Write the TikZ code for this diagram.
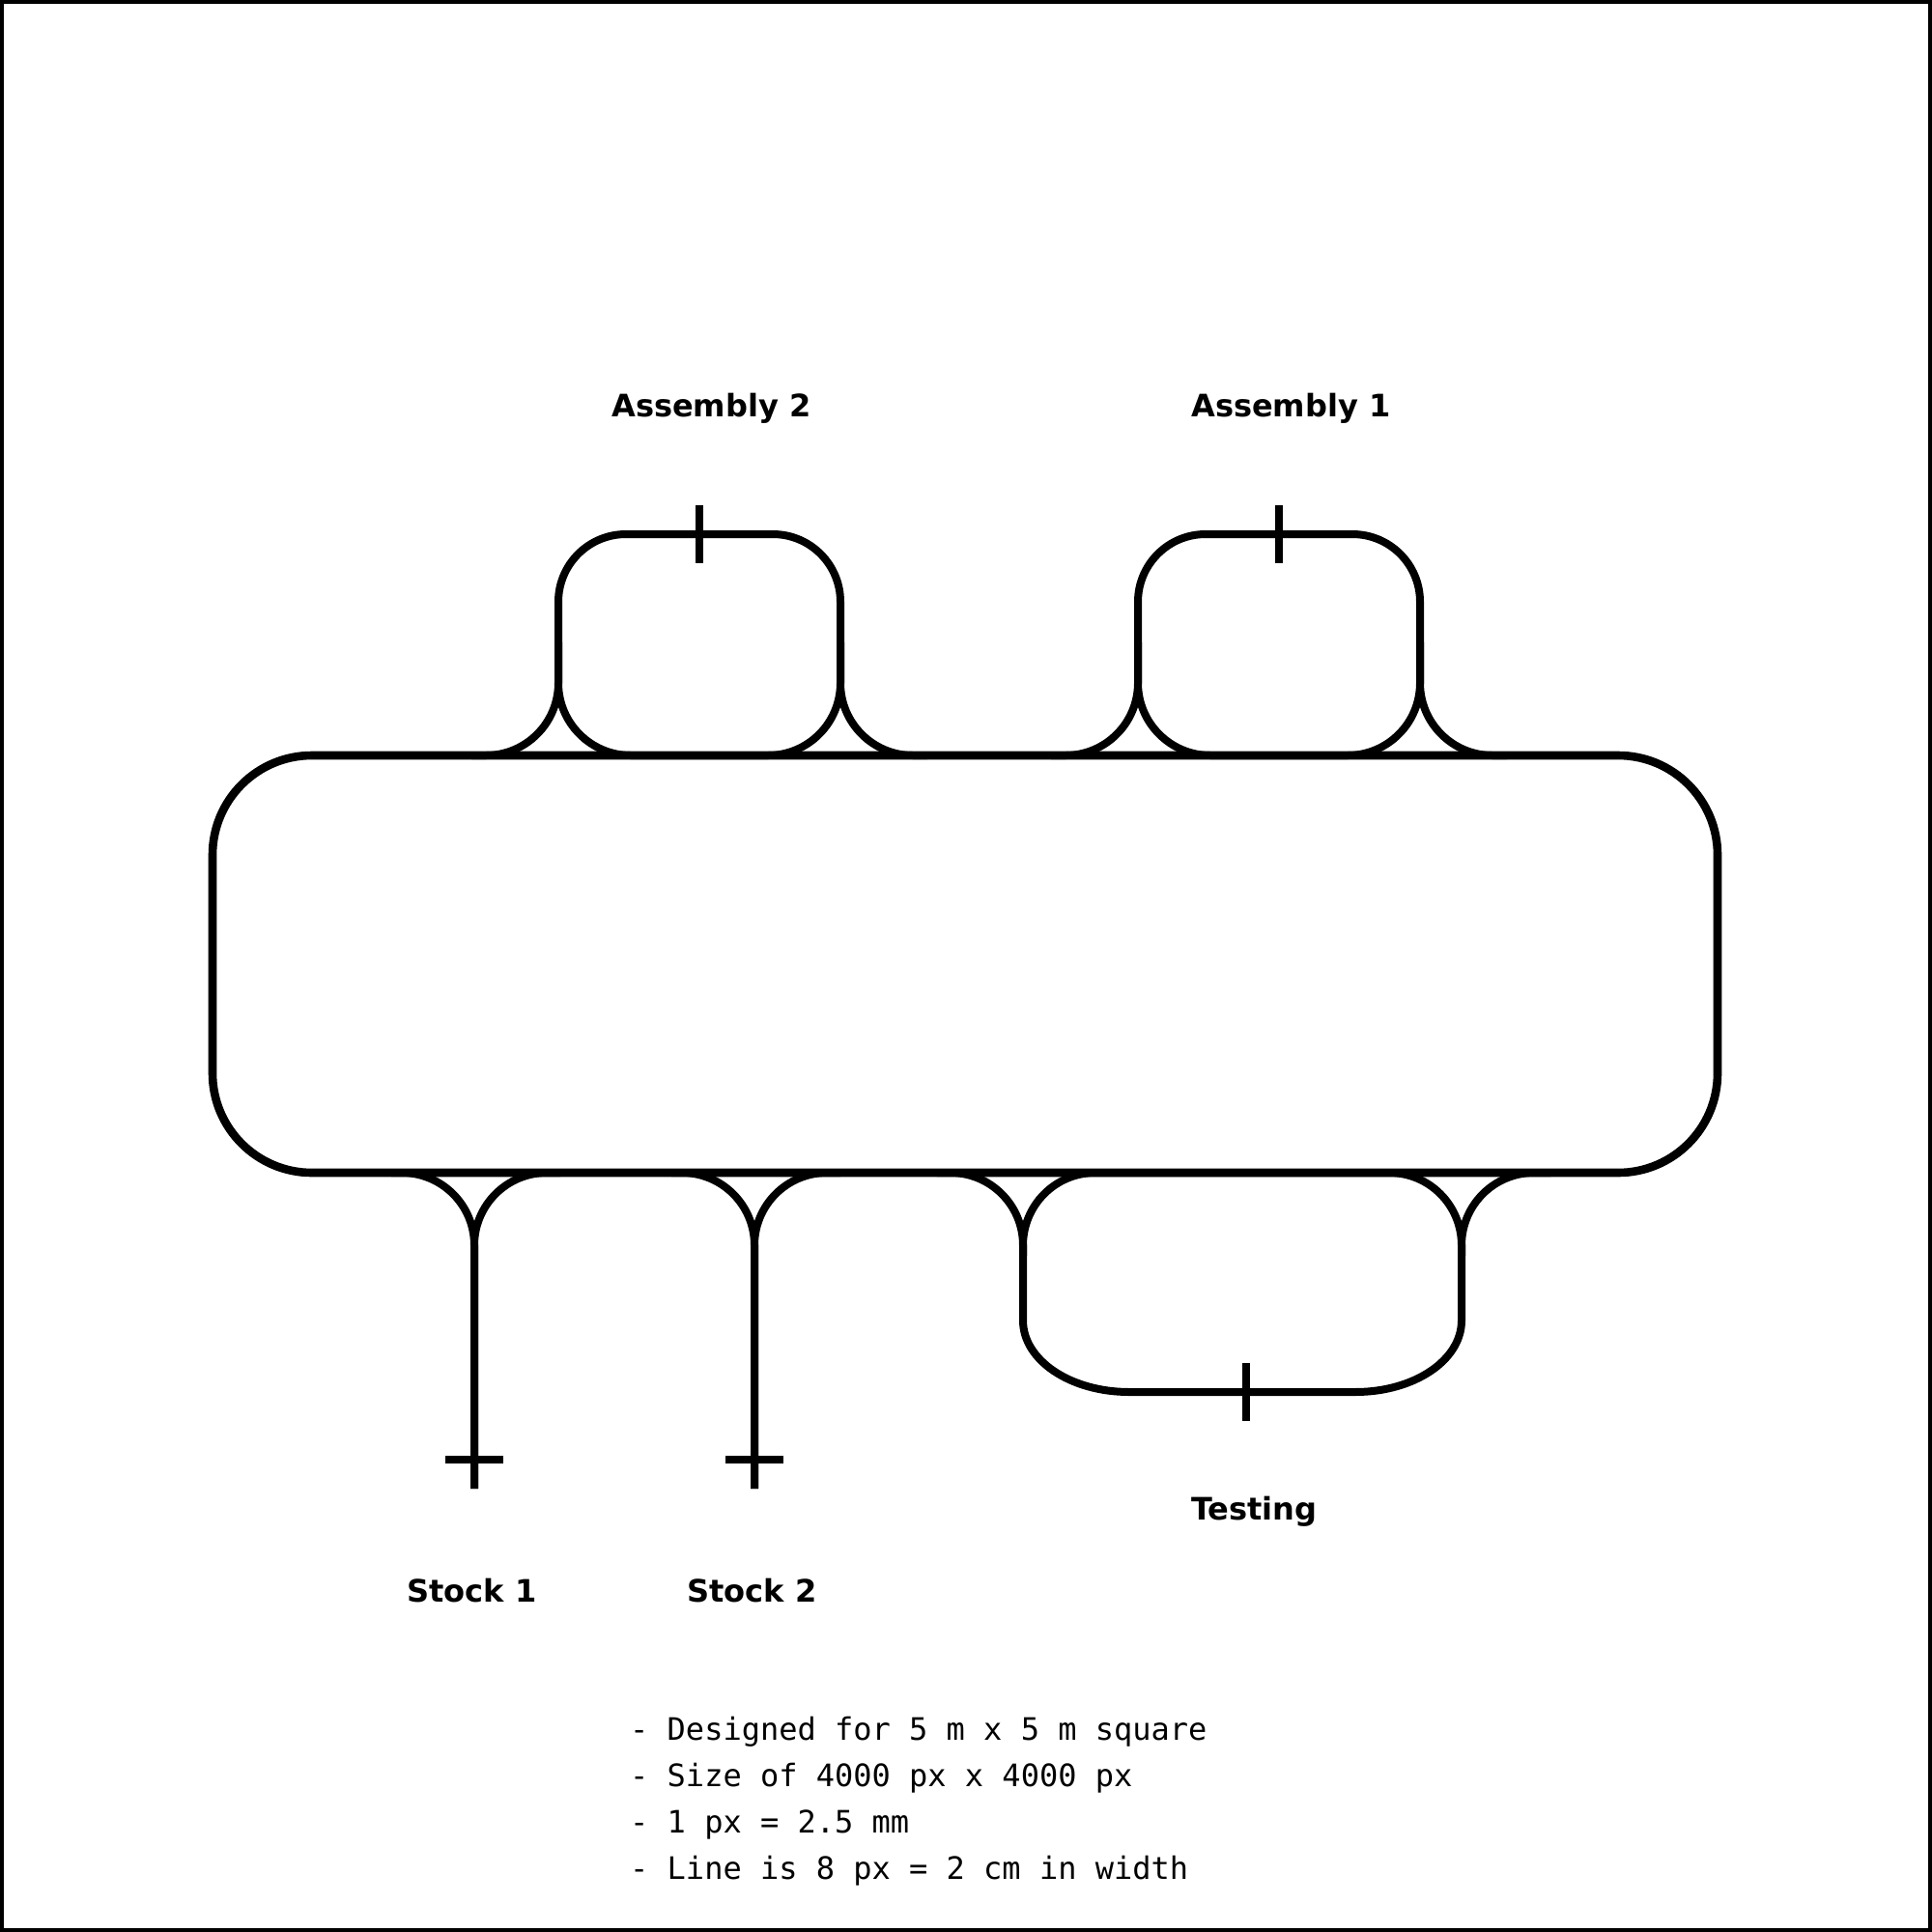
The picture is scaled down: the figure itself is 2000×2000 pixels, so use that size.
\documentclass[tikz,border=0pt]{standalone}
\usepackage{fontspec}
\setmainfont{DejaVu Sans}
\setmonofont{DejaVu Sans Mono}

\tikzset{
    track/.style={line width=8pt, black},
    station/.style={inner sep=0pt, anchor=base west, font=\fontsize{32.05}{38}\selectfont\bfseries},
    note/.style={inner sep=0pt, anchor=base west, font=\fontsize{32}{48}\selectfont\ttfamily}
}

\begin{document}
\begin{tikzpicture}[x=1pt, y=-1pt]

\useasboundingbox (0,0) rectangle (2000,2000);
\draw [line width=4pt] (2,2) rectangle (1998,1998);

% main loop
\draw [track, line width=8.6pt, rounded corners=103pt] (220,782) rectangle (1778,1214);

% assembly side loops
\begin{scope}[track]
    \foreach \x in {578, 1178} {
        \draw [rounded corners=70pt] (\x,665) |- (\x+292,553) -- (\x+292,665);
        \draw [rounded corners=75pt] (\x,665) |- (\x+292,782) -- (\x+292,665);
        \draw [rounded corners=75pt] (\x-90,782) -| (\x,665);
        \draw [rounded corners=75pt] (\x+382,782) -| (\x+292,665);
    }
\end{scope}

% stock lines
\begin{scope}[track, rounded corners=75pt]
    \coordinate (S1) at (491,1541);
    \coordinate (S2) at (781,1541);
    \draw (405,1214) -| (S1);
    \draw (580,1214) -| (S1);
    \draw (695,1214) -| (S2);
    \draw (870,1214) -| (S2);
\end{scope}

% testing loop
\draw [track] (1059,1289)
    .. controls (1059,1248) and (1092,1214) .. (1134,1214)
    -- (1438,1214)
    .. controls (1480,1214) and (1513,1248) .. (1513,1289)
    -- (1513,1367)
    .. controls (1513,1408) and (1464,1441) .. (1403,1441)
    -- (1169,1441)
    .. controls (1108,1441) and (1059,1408) .. (1059,1367)
    -- cycle;
\draw [track, rounded corners=75pt] (970,1214) -| (1059,1300);
\draw [track, rounded corners=75pt] (1605,1214) -| (1513,1300);

% crosses at the stations
\foreach \x/\y in {724/553, 1324/553, 491/1511, 781/1511, 1290/1441} {
    \draw [track] (\x-30,\y) -- (\x+30,\y) (\x,\y-30) -- (\x,\y+30);
}

\node (assemblyB) at (633,431) [station] {Assembly 2};
\node (assemblyA) at (1233,431) [station] {Assembly 1};
\node (stockA) at (421,1658) [station] {Stock 1};
\node (stockB) at (711,1658) [station] {Stock 2};
\node (testing) at (1233,1573) [station] {Testing};

\node (noteA) at (652,1801) [note] {- Designed for 5 m x 5 m square};
\node (noteB) at (652,1849) [note] {- Size of 4000 px x 4000 px};
\node (noteC) at (652,1897) [note] {- 1 px = 2.5 mm};
\node (noteD) at (652,1945) [note] {- Line is 8 px = 2 cm in width};

\end{tikzpicture}
\end{document}
